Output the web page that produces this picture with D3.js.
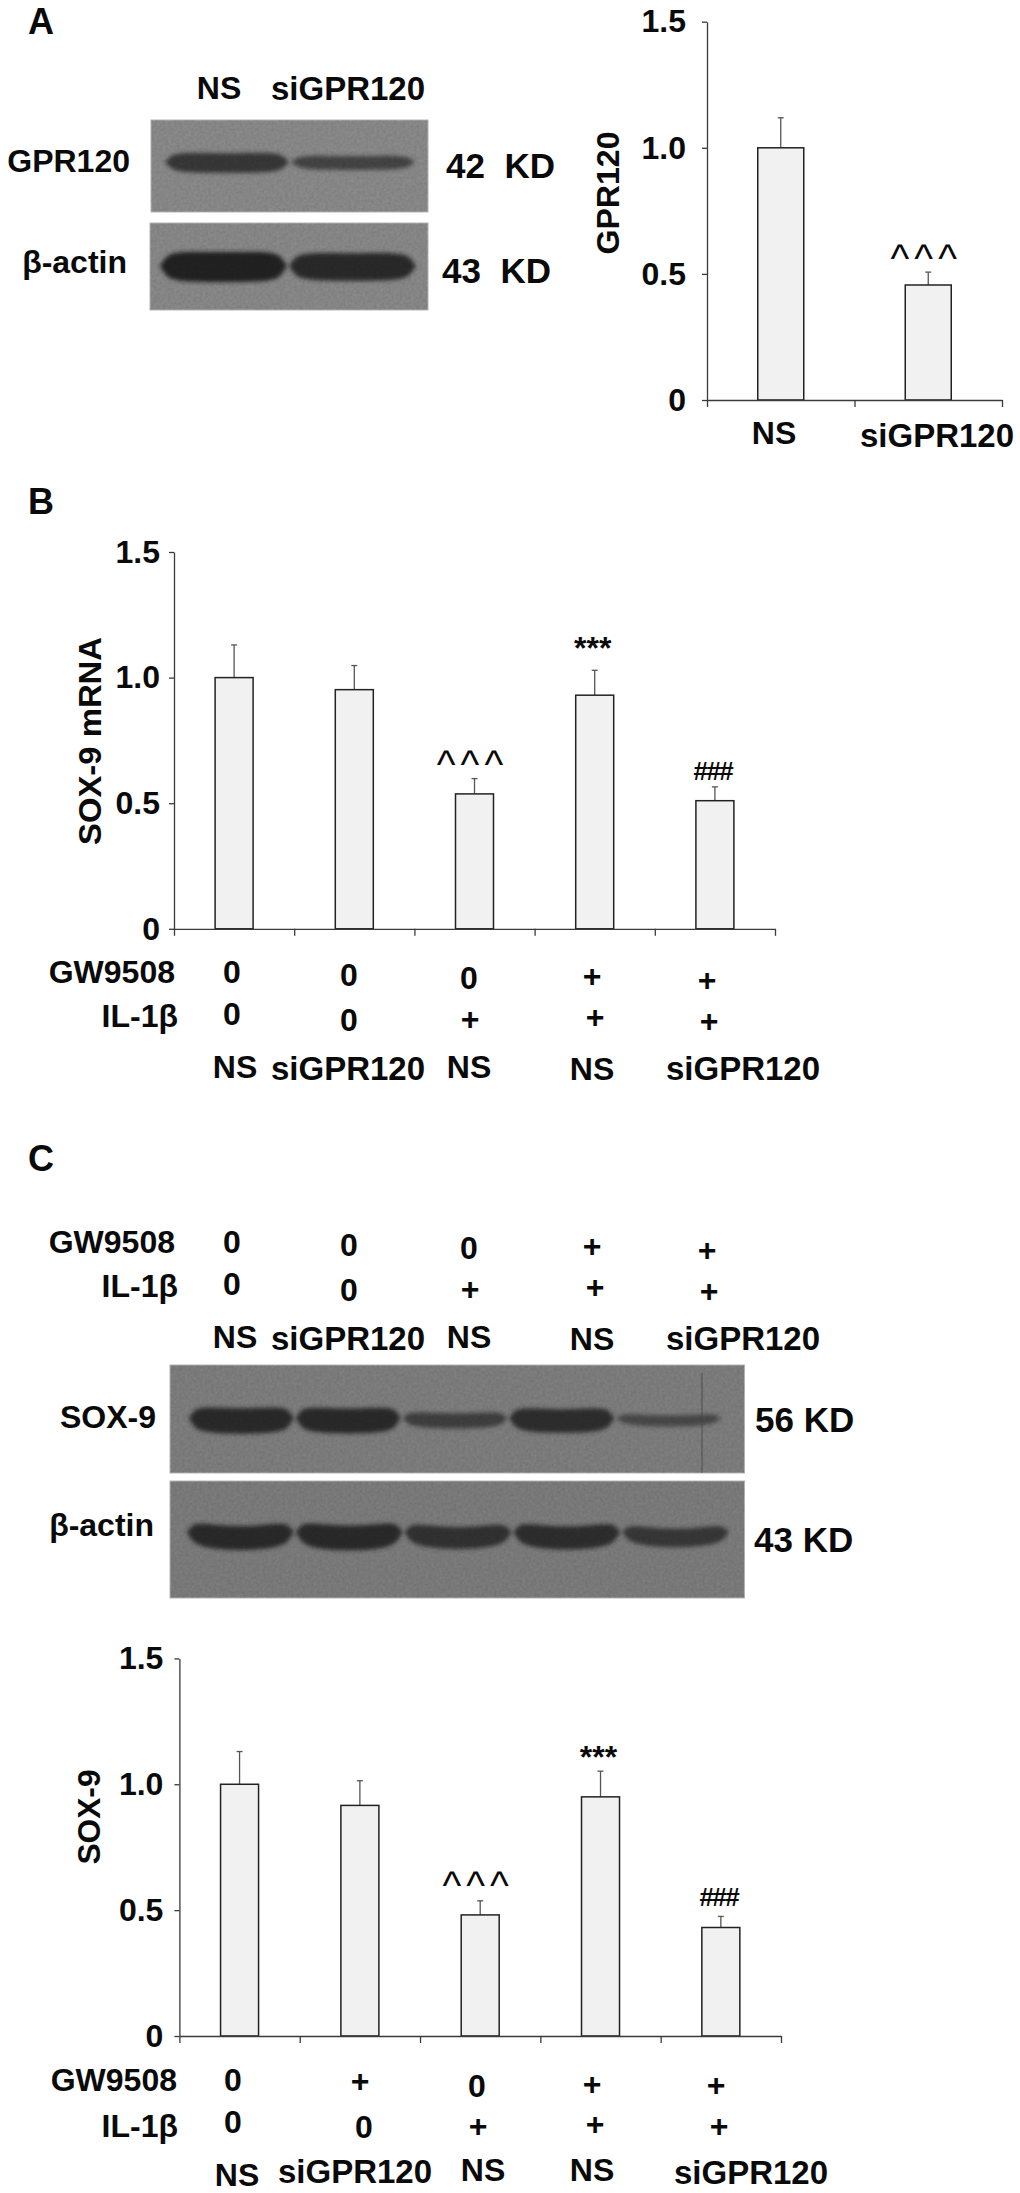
<!DOCTYPE html>
<html>
<head>
<meta charset="utf-8">
<script src="https://cdn.jsdelivr.net/npm/d3@7"></script>
<style>
body { margin: 0; background: #fff; }
svg { display: block; }
text { font-family: "Liberation Sans", Arial, sans-serif; font-weight: bold; fill: #0a0a0a; white-space: pre; }
</style>
</head>
<body>
<svg id="fig" width="1020" height="2193"></svg>
<script>
// values
var yTicks = [0, 0.5, 1, 1.5];

var aLabels = ["NS", "siGPR120"];
var aValues = [1, 0.456];
var aErrTop = [1.119, 0.507];
var aSig = ["", "^^^"];

var bValues = [1, 0.952, 0.537, 0.93, 0.51];
var bErrTop = [1.13, 1.048, 0.598, 1.029, 0.565];
var cValues = [1, 0.916, 0.481, 0.95, 0.431];
var cErrTop = [1.13, 1.014, 0.537, 1.052, 0.475];
var sigMarks = ["", "", "^^^", "***", "###"];

var gw9508 = ["0", "0", "0", "+", "+"];
var gw9508C = ["0", "+", "0", "+", "+"];
var il1b = ["0", "0", "+", "+", "+"];
var sirna = ["NS", "siGPR120", "NS", "NS", "siGPR120"];

// band strength of the blots, 0 to 1
var blotGpr = [0.62, 0.36];
var blotActinA = [1, 0.9];
var blotSox = [0.88, 0.86, 0.42, 0.8, 0.24];
var blotActinC = [0.86, 0.9, 0.76, 0.82, 0.6];

var svg = d3.select("#fig");
var defs = svg.append("defs");

var blur = defs.append("filter").attr("id", "bandBlur")
    .attr("x", "-20%").attr("y", "-60%").attr("width", "140%").attr("height", "220%");
blur.append("feGaussianBlur").attr("stdDeviation", 2);

// grain stays inside the blot rectangle
var grain = defs.append("filter").attr("id", "grain")
    .attr("x", "0%").attr("y", "0%").attr("width", "100%").attr("height", "100%");
grain.append("feTurbulence").attr("type", "fractalNoise").attr("baseFrequency", 0.35)
    .attr("numOctaves", 2).attr("seed", 4);
grain.append("feColorMatrix").attr("type", "matrix")
    .attr("values", "0 0 0 0 0  0 0 0 0 0  0 0 0 0 0  0.5 0 0 0 -0.12");
grain.append("feComposite").attr("in2", "SourceGraphic").attr("operator", "in");

function addText(x, y, str, size, anchor){
    return svg.append("text")
        .attr("x", x)
        .attr("y", y)
        .attr("dy", "0.35em")
        .attr("text-anchor", anchor || "middle")
        .attr("font-size", size || 32)
        .text(str);
}

function barChart(opt){
    var g = svg.append("g");
    var x = d3.scaleBand().domain(d3.range(opt.values.length)).range([opt.left, opt.right]);
    var xEdges = d3.scaleLinear().domain([0, opt.values.length]).range([opt.left, opt.right]);
    var y = d3.scaleLinear().domain([0, 1.5]).range([opt.bottom, opt.top]);
    var cx = function(d, i){ return x(i) + x.bandwidth() / 2; };

    // error bars first, the bar covers the lower half
    g.selectAll(".err").data(opt.errTop).enter().append("line")
        .attr("x1", cx).attr("x2", cx)
        .attr("y1", function(d, i){ return y(opt.values[i]); })
        .attr("y2", function(d){ return y(d); })
        .attr("stroke", "#555").attr("stroke-width", 1.3);
    g.selectAll(".cap").data(opt.errTop).enter().append("line")
        .attr("x1", function(d, i){ return cx(d, i) - 3; })
        .attr("x2", function(d, i){ return cx(d, i) + 3; })
        .attr("y1", function(d){ return y(d); })
        .attr("y2", function(d){ return y(d); })
        .attr("stroke", "#555").attr("stroke-width", 1.3);

    g.selectAll(".bar").data(opt.values).enter().append("rect")
        .attr("x", function(d, i){ return cx(d, i) - opt.barW / 2; })
        .attr("y", function(d){ return y(d); })
        .attr("width", opt.barW)
        .attr("height", function(d){ return opt.bottom - y(d); })
        .attr("fill", "#f1f1f1")
        .attr("stroke", "#222")
        .attr("stroke-width", 1.5);

    var yAxis = g.append("g")
        .attr("transform", "translate(" + opt.left + ",0)")
        .call(d3.axisLeft(y).tickValues(yTicks).tickSize(5).tickSizeOuter(0).tickPadding(opt.pad)
            .tickFormat(function(d){ return d === 0 ? "0" : d.toFixed(1); }));
    yAxis.selectAll("text").attr("font-size", 32).attr("font-family", null);
    var xAxis = g.append("g")
        .attr("transform", "translate(0," + opt.bottom + ")")
        .call(d3.axisBottom(xEdges).tickValues(d3.range(opt.values.length + 1)).tickSize(7)
            .tickSizeOuter(0).tickFormat(""));
    g.selectAll(".domain, .tick line").attr("stroke", "#3a3a3a").attr("stroke-width", 1.3);

    svg.append("text")
        .attr("transform", "translate(" + opt.titleX + "," + opt.titleY + ") rotate(-90)")
        .attr("text-anchor", "middle")
        .attr("dy", "0.35em")
        .attr("font-size", 32)
        .attr("textLength", opt.titleLen)
        .attr("lengthAdjust", "spacingAndGlyphs")
        .text(opt.title);

    // significance marks sit a fixed distance above the error bar
    opt.sig.forEach(function(s, i){
        if (!s) return;
        var px = cx(0, i) - 2, py = y(opt.errTop[i]);
        if (s === "^^^") {
            svg.append("text").attr("x", px).attr("y", py - opt.lift.caret)
                .attr("text-anchor", "middle").attr("font-size", 40)
                .attr("letter-spacing", 5).style("font-weight", "normal").text(s);
        } else if (s === "***") {
            addText(px, py - opt.lift.star, s, 32);
        } else {
            addText(px, py - opt.lift.hash, s, 26).attr("letter-spacing", -1.5);
        }
    });
}

function blot(opt){
    var g = svg.append("g");
    g.append("rect").attr("x", opt.x0).attr("y", opt.y0)
        .attr("width", opt.x1 - opt.x0).attr("height", opt.y1 - opt.y0)
        .attr("fill", opt.bg).attr("stroke", "#b5b5b5").attr("stroke-width", 1);

    var lanes = d3.scaleBand().domain(d3.range(opt.bands.length)).range([opt.laneA, opt.laneB]);
    var bandH = d3.scaleLinear().domain([0, 1]).range([6, opt.maxH]);
    var bandC = d3.scaleLinear().domain([0, 1]).range(["#565656", "#242424"]);

    // band outline: blunt ends, the edges bend a little like a real gel smile
    var steps = d3.range(0, 1.001, 0.05);
    g.selectAll(".band").data(opt.bands).enter().append("path")
        .attr("d", function(d, i){
            var bx = d3.scaleLinear().domain([0, 1]).range([lanes(i) + 1, lanes(i) + lanes.bandwidth() - 1]);
            var half = function(t){ return bandH(d) / 2 * Math.pow(1 - Math.pow(2 * t - 1, 6), 0.5); };
            var bend = function(t){ return opt.smile * (1 - Math.pow(2 * t - 1, 2)); };
            return d3.area().curve(d3.curveBasis)
                .x(bx)
                .y0(function(t){ return opt.bandY + bend(t) - half(t); })
                .y1(function(t){ return opt.bandY + bend(t) + half(t); })(steps);
        })
        .attr("fill", function(d){ return bandC(d); })
        .attr("filter", "url(#bandBlur)");

    if (opt.streakX) {
        g.append("line").attr("x1", opt.streakX).attr("x2", opt.streakX)
            .attr("y1", opt.y0 + 8).attr("y2", opt.y1)
            .attr("stroke", "#4a4a4a").attr("stroke-width", 1.2).attr("opacity", 0.7);
    }

    g.append("rect").attr("x", opt.x0).attr("y", opt.y0)
        .attr("width", opt.x1 - opt.x0).attr("height", opt.y1 - opt.y0)
        .attr("fill", "#000").attr("filter", "url(#grain)").attr("opacity", 0.3);
}

function table(t, gwRow, dy){
    addText(t.gwX, t.gwY + dy, "GW9508", 32, "end");
    addText(t.ilX, t.ilY + dy, "IL-1\u03b2", 32, "end");
    gwRow.forEach(function(s, i){ addText(t.r1x[i], t.r1y[i] + dy, s); });
    il1b.forEach(function(s, i){ addText(t.r2x[i], t.r2y[i] + dy, s); });
    sirna.forEach(function(s, i){ addText(t.r3x[i], t.r3y[i] + dy, s, s === "NS" ? 32 : 33); });
}

// panel letters
addText(41, 21, "A", 36);
addText(41, 501, "B", 36);
addText(41, 1158, "C", 36);

// panel A
addText(219, 88, aLabels[0]);
addText(348, 88, aLabels[1], 33);
blot({x0: 151, x1: 428, y0: 120, y1: 212, bg: "#8b8b8b", bands: blotGpr,
    laneA: 164, laneB: 416, bandY: 162, maxH: 28, smile: 1});
blot({x0: 150, x1: 428, y0: 223, y1: 310, bg: "#8a8a8a", bands: blotActinA,
    laneA: 159, laneB: 417, bandY: 266, maxH: 30, smile: 1});
addText(130, 161, "GPR120", 32, "end");
addText(127, 262, "\u03b2-actin", 32, "end");
addText(446, 166, "42  KD", 35, "start");
addText(442, 271, "43  KD", 35, "start");

barChart({values: aValues, errTop: aErrTop, sig: aSig, left: 707, right: 1002, top: 21.7, bottom: 400,
    barW: 46, pad: 16, title: "GPR120", titleX: 608, titleY: 193, titleLen: 123,
    lift: {caret: 0}});
addText(774, 433, aLabels[0]);
addText(937, 435, aLabels[1], 33);

// panel B
barChart({values: bValues, errTop: bErrTop, sig: sigMarks, left: 174, right: 775, top: 552, bottom: 928.8,
    barW: 38, pad: 9, title: "SOX-9 mRNA", titleX: 90, titleY: 741, titleLen: 208,
    lift: {caret: 1, star: 23, hash: 16}});

var tableB = {
    gwX: 175, gwY: 971.5, ilX: 178, ilY: 1016,
    r1x: [232, 349, 469, 592, 707], r1y: [972, 975, 978, 976, 980],
    r2x: [232, 349, 470, 595, 709], r2y: [1014, 1020, 1018.5, 1017, 1020.5],
    r3x: [235, 348, 469, 592, 743], r3y: [1067, 1068, 1067, 1069, 1068]
};
table(tableB, gw9508, 0);

// panel C, same table again above the blots
table(tableB, gw9508, 270);
blot({x0: 170, x1: 744.5, y0: 1365, y1: 1473, bg: "#7f7f7f", bands: blotSox,
    laneA: 188, laneB: 722, bandY: 1418, maxH: 28, smile: 3, streakX: 702});
blot({x0: 170, x1: 744.5, y0: 1481, y1: 1598, bg: "#7d7d7d", bands: blotActinC,
    laneA: 186, laneB: 730, bandY: 1532, maxH: 27, smile: 6});
addText(156, 1417, "SOX-9", 32, "end");
addText(154, 1525, "\u03b2-actin", 32, "end");
addText(755, 1420, "56 KD", 35, "start");
addText(754, 1540, "43 KD", 35, "start");

barChart({values: cValues, errTop: cErrTop, sig: sigMarks, left: 179.4, right: 781, top: 1658.4, bottom: 2036,
    barW: 38, pad: 11, title: "SOX-9", titleX: 89, titleY: 1817, titleLen: 95,
    lift: {caret: 2, star: 14, hash: 20}});

table({
    gwX: 177, gwY: 2080, ilX: 178, ilY: 2126,
    r1x: [233, 360, 477, 592, 716], r1y: [2080, 2080.5, 2086, 2084, 2085],
    r2x: [233, 364, 478, 595, 719], r2y: [2121.5, 2127, 2126, 2124, 2125.5],
    r3x: [237, 355, 483, 592, 751], r3y: [2175, 2171, 2170, 2170, 2172.6]
}, gw9508C, 0);
</script>
</body>
</html>
